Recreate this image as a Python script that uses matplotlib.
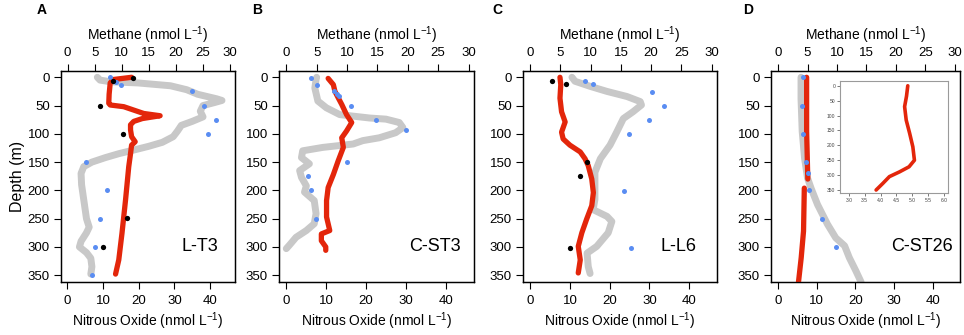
import matplotlib
matplotlib.use("Agg")
import matplotlib.pyplot as plt

plt.rcParams['font.family'] = ['Liberation Sans', 'DejaVu Sans']

# ---- panel A : L-T3 ----
a_ch4_z = [0, 5, 8, 10, 15, 22, 30, 38, 41, 45, 50, 60, 70, 78, 85, 95, 105, 115, 122, 128,
           135, 142, 150, 158, 170, 190, 210, 230, 250, 265, 275, 290, 300, 310, 320, 335, 348]
a_ch4 = [5.5, 6.0, 8, 13, 19, 22, 24, 27.5, 28.5, 27, 25, 24.5, 25, 23, 21, 20.3, 19.5, 17.5, 15, 12.5,
         9.5, 7, 4.5, 3.0, 2.5, 2.6, 2.9, 3.2, 3.5, 4.0, 3.5, 2.5, 2.2, 3.5, 4.3, 4.5, 4.3]
a_n2o_z = [0, 4, 10, 30, 46, 49, 52, 58, 64, 68, 73, 78, 84, 93, 105, 114, 120, 135, 158, 217, 276, 323, 348]
a_n2o = [18, 12.8, 12, 11.7, 11.6, 12, 15.8, 18.6, 21.4, 26, 21, 18.6, 17.7, 17.7, 18, 19, 18, 17.7,
         17.2, 16.3, 15.3, 14.4, 13.5]
a_ch4_pts_z = [0, 8, 14, 25, 50, 75, 100, 150, 200, 250, 300, 350]
a_ch4_pts = [7.8, 9, 9.8, 23, 25.2, 27.4, 26, 3.5, 7.3, 6, 5.1, 4.5]
a_n2o_pts_z = [0.5, 6, 50, 100, 248, 300]
a_n2o_pts = [18.4, 12.9, 9.2, 15.5, 16.6, 10.1]

# ---- panel B : C-ST3 ----
b_ch4_z = [0, 4, 19, 42, 54, 66, 72, 74, 80, 89, 98, 107, 112, 118, 124, 130, 142, 153, 165, 177,
           192, 203, 218, 241, 259, 271, 283, 297, 303]
b_ch4 = [5.0, 4.9, 4.7, 5.2, 6.6, 8.8, 13.7, 16.4, 18.6, 19.2, 18, 15.3, 12.6, 11, 6, 2.7, 2.5, 3.8, 2.2, 2.5,
         3.3, 3.0, 4.6, 4.9, 4.6, 3.3, 1.6, 0.5, 0]
b_n2o_z = [2, 13, 25, 36, 48, 66, 80, 95, 107, 124, 148, 172, 195, 218, 247, 259, 271, 277, 289, 300, 306]
b_n2o = [10.5, 11.8, 12.2, 13, 13.9, 15.1, 16.4, 15.1, 13.9, 14.3, 13, 11.8, 10.5, 10.1, 10.1, 10.5, 10.9,
         8.8, 8.8, 9.9, 9.9]
b_ch4_pts_z = [2, 13, 24, 29, 33, 50, 75, 94, 150, 174, 200, 250]
b_ch4_pts = [4.1, 5, 7.9, 8.3, 8.6, 10.7, 14.8, 19.7, 10, 3.6, 4.1, 4.9]

# ---- panel C : L-L6 ----
c_ch4_z = [0, 7, 16, 25, 34, 43, 49, 61, 73, 97, 120, 144, 168, 192, 216, 234, 246, 255, 275, 299,
           311, 335, 347]
c_ch4 = [6.9, 7.4, 9.9, 12.7, 16, 18.2, 18.4, 17, 15.4, 14.3, 13.2, 11.6, 10.7, 10.7, 10.7, 10.4, 12.7,
         13.5, 12.9, 11, 9.4, 9.6, 9.9]
c_n2o_z = [0, 13, 37, 61, 79, 97, 109, 120, 132, 144, 156, 180, 204, 227, 251, 275, 299, 323, 346]
c_n2o = [7.5, 7.7, 7.5, 7.9, 8.8, 7.9, 8.3, 10, 12.6, 13.8, 14.6, 15.5, 15.9, 15.5, 14.2, 13, 12.1,
         12.6, 12.1]
c_ch4_pts_z = [6, 11, 26, 51, 76, 101, 201, 302]
c_ch4_pts = [9.1, 10.3, 20.1, 22.2, 19.7, 16.3, 15.5, 16.6]
c_n2o_pts_z = [7, 12, 150, 174, 302]
c_n2o_pts = [5.4, 9, 14.2, 12.6, 9.9]

# ---- panel D : C-ST26 ----
d_ch4_z = [0, 38, 96, 143, 178, 196, 225, 260, 284, 298, 319, 342, 362]
d_ch4 = [3.9, 3.9, 4.1, 4.5, 5.0, 5.6, 6.7, 8.4, 9.8, 11.3, 12.1, 13.2, 14.1]
d_n2o_z = [0, 96, 180, 188, 196, 272, 319, 362]
d_n2o = [7.4, 7.4, 7.7, float('nan'), 6.8, 6.6, 6.0, 5.3]
d_ch4_pts_z = [0, 50, 101, 150, 169, 200, 250, 300]
d_ch4_pts = [4.2, 4.1, 4.2, 4.7, 5.1, 5.3, 7.4, 9.9]
inset_z = [0, 35, 70, 115, 160, 205, 250, 272, 289, 305, 328, 350]
inset_n2o = [4.86, 4.82, 4.76, 4.81, 4.92, 5.02, 5.07, 4.9, 4.6, 4.28, 4.07, 3.86]

panels = [
    ('A', 'L-T3', a_ch4_z, a_ch4, a_n2o_z, a_n2o, a_ch4_pts_z, a_ch4_pts, a_n2o_pts_z, a_n2o_pts),
    ('B', 'C-ST3', b_ch4_z, b_ch4, b_n2o_z, b_n2o, b_ch4_pts_z, b_ch4_pts, [], []),
    ('C', 'L-L6', c_ch4_z, c_ch4, c_n2o_z, c_n2o, c_ch4_pts_z, c_ch4_pts, c_n2o_pts_z, c_n2o_pts),
    ('D', 'C-ST26', d_ch4_z, d_ch4, d_n2o_z, d_n2o, d_ch4_pts_z, d_ch4_pts, [], []),
]

# axes boxes in pixels (left, right) ; top/bottom shared, panel letter x
boxes = [(61, 235), (279, 474), (523, 717), (771, 960)]
letter_x = [42, 257, 497, 748]
W, H = 964, 335
top_px, bot_px = 70.5, 282

RED = '#e3260b'
GRAY = '#c8c8c8'
BLUE = '#5a8df2'

fig = plt.figure(figsize=(9.64, 3.35), dpi=100)

for (letter, name, cz, cv, nz, nv, cpz, cp, npz, npv), (l, r), lx in zip(panels, boxes, letter_x):
    ax = fig.add_axes([l / W, 1 - bot_px / H, (r - l) / W, (bot_px - top_px) / H])
    tw = ax.twiny()
    ax.set_zorder(tw.get_zorder() + 1)
    ax.patch.set_visible(False)

    tw.plot(cv, cz, color=GRAY, lw=5, solid_capstyle='round', solid_joinstyle='round')
    ax.plot(nv, nz, color=RED, lw=3.8, solid_capstyle='round', solid_joinstyle='round')
    ax.plot(cp, cpz, 'o', color=BLUE, ms=3.6, mec='none', transform=tw.transData)
    if npv:
        ax.plot(npv, npz, 'o', color='black', ms=3.8, mec='none')

    ax.set_xlim(-1.8, 47)
    tw.set_xlim(-1.2, 30.9)
    ax.set_ylim(362, -12)
    tw.set_ylim(362, -12)

    ax.set_xticks(range(0, 41, 10))
    ax.set_yticks(range(0, 351, 50))
    tw.set_xticks(range(0, 31, 5))
    ax.tick_params(axis='both', direction='out', length=5, width=0.8, labelsize=9.5)
    ax.tick_params(axis='x', pad=4)
    ax.tick_params(axis='y', pad=3)
    tw.tick_params(axis='x', direction='out', length=5, width=0.8, labelsize=9.5, pad=3)
    for sp in ax.spines.values():
        sp.set_linewidth(0.9)
    for sp in tw.spines.values():
        sp.set_linewidth(0.9)

    ax.set_xlabel('Nitrous Oxide (nmol L$^{\\mathregular{-1}}$)', fontsize=10, labelpad=3)
    tw.set_xlabel('Methane (nmol L$^{\\mathregular{-1}}$)', fontsize=10, labelpad=5)
    if letter == 'A':
        ax.set_ylabel('Depth (m)', fontsize=11.5, labelpad=2)

    ax.text(0.8, 300, name, transform=ax.get_yaxis_transform(), fontsize=13,
            ha='center', va='center')
    fig.text(lx / W, 1 - 10 / H, letter, fontsize=10, fontweight='bold',
             ha='center', va='center')

# inset in panel D
ins = fig.add_axes([840 / W, 1 - 193 / H, 108 / W, 112 / H])
ins.plot(inset_n2o, inset_z, color=RED, lw=2.6, solid_capstyle='round')
ins.set_xlim(2.72, 6.13)
ins.set_ylim(360, -16)
ins.set_xticks([3.0, 3.5, 4.0, 4.5, 5.0, 5.5, 6.0])
ins.set_xticklabels(['3.0', '3.5', '4.0', '4.5', '5.0', '5.5', '6.0'])
ins.set_yticks(range(0, 351, 50))
ins.tick_params(labelsize=3.6, length=2, width=0.5, pad=1.5, colors='#444444')
for sp in ins.spines.values():
    sp.set_color('#9a9a9a')
    sp.set_linewidth(0.8)

fig.savefig('out.png', dpi=100)
